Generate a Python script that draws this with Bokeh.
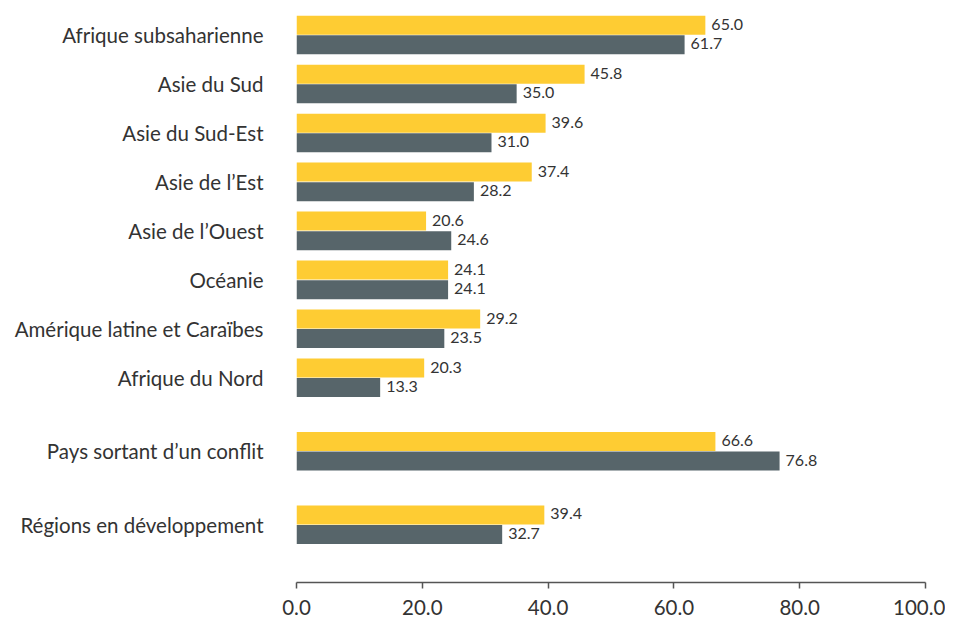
from bokeh.plotting import figure
from bokeh.models import ColumnDataSource, Range1d, FixedTicker, NumeralTickFormatter
from bokeh.core.properties import value
from bokeh.embed import file_html
from bokeh.resources import INLINE

categories = ["Afrique subsaharienne", "Asie du Sud", "Asie du Sud-Est", "Asie de l\u2019Est",
              "Asie de l\u2019Ouest", "Océanie", "Amérique latine et Caraïbes", "Afrique du Nord",
              "Pays sortant d\u2019un conflit", "Régions en développement"]
series_a = [65.0, 45.8, 39.6, 37.4, 20.6, 24.1, 29.2, 20.3, 66.6, 39.4]
series_b = [61.7, 35.0, 31.0, 28.2, 24.6, 24.1, 23.5, 13.3, 76.8, 32.7]
x_ticks = [0, 20, 40, 60, 80, 100]

YELLOW = "#FECC33"
GRAY = "#57656A"
TEXT = "#333333"
FONT = "Lato"

# group positions: extra gap before the last two groups
gap_after = {7: 0.5, 8: 0.5}
pos = []
y = 0.0
for i in range(len(categories)):
    pos.append(y)
    y += 1.0 + gap_after.get(i, 0.0)

bar_h = 0.4
pos_a = [p - bar_h / 2 for p in pos]
pos_b = [p + bar_h / 2 for p in pos]

src = ColumnDataSource(dict(
    ya=pos_a, yb=pos_b, a=series_a, b=series_b,
    la=["%.1f" % v for v in series_a], lb=["%.1f" % v for v in series_b],
))

p = figure(frame_width=629, frame_height=572, output_backend="svg", toolbar_location=None,
           x_range=Range1d(0, 100), y_range=Range1d(pos[-1] + 1.18, -0.5),
           min_border_left=296, min_border_right=20, min_border_top=10, min_border_bottom=0)
p.outline_line_color = None
p.grid.grid_line_color = None
p.background_fill_color = "white"

p.hbar(y="ya", left=0, right="a", height=bar_h * 0.97, source=src, color=YELLOW, line_color=None)
p.hbar(y="yb", left=0, right="b", height=bar_h * 0.97, source=src, color=GRAY, line_color=None)

p.text(x="a", y="ya", text="la", source=src, x_offset=6, y_offset=-1, text_baseline="middle",
       text_font=value(FONT), text_font_size="16px", text_color=TEXT)
p.text(x="b", y="yb", text="lb", source=src, x_offset=6, y_offset=-1, text_baseline="middle",
       text_font=value(FONT), text_font_size="16px", text_color=TEXT)

xa = p.xaxis[0]
xa.ticker = FixedTicker(ticks=x_ticks)
xa.formatter = NumeralTickFormatter(format="0.0")
xa.axis_line_color = "#555555"
xa.axis_line_width = 1.5
xa.major_tick_line_color = "#555555"
xa.major_tick_line_width = 1.5
xa.major_tick_in = 0
xa.major_tick_out = 6
xa.minor_tick_line_color = None
xa.major_label_text_font = FONT
xa.major_label_text_font_size = "20.5px"
xa.major_label_text_color = TEXT
xa.major_label_standoff = 11

ya = p.yaxis[0]
ya.ticker = FixedTicker(ticks=pos)
ya.major_label_overrides = {p_: c for p_, c in zip(pos, categories)}
ya.axis_line_color = None
ya.major_tick_line_color = None
ya.minor_tick_line_color = None
ya.major_label_text_font = FONT
ya.major_label_text_font_size = "20.5px"
ya.major_label_text_color = TEXT
ya.major_label_standoff = 27

open("out.html", "w").write(file_html(p, INLINE))
